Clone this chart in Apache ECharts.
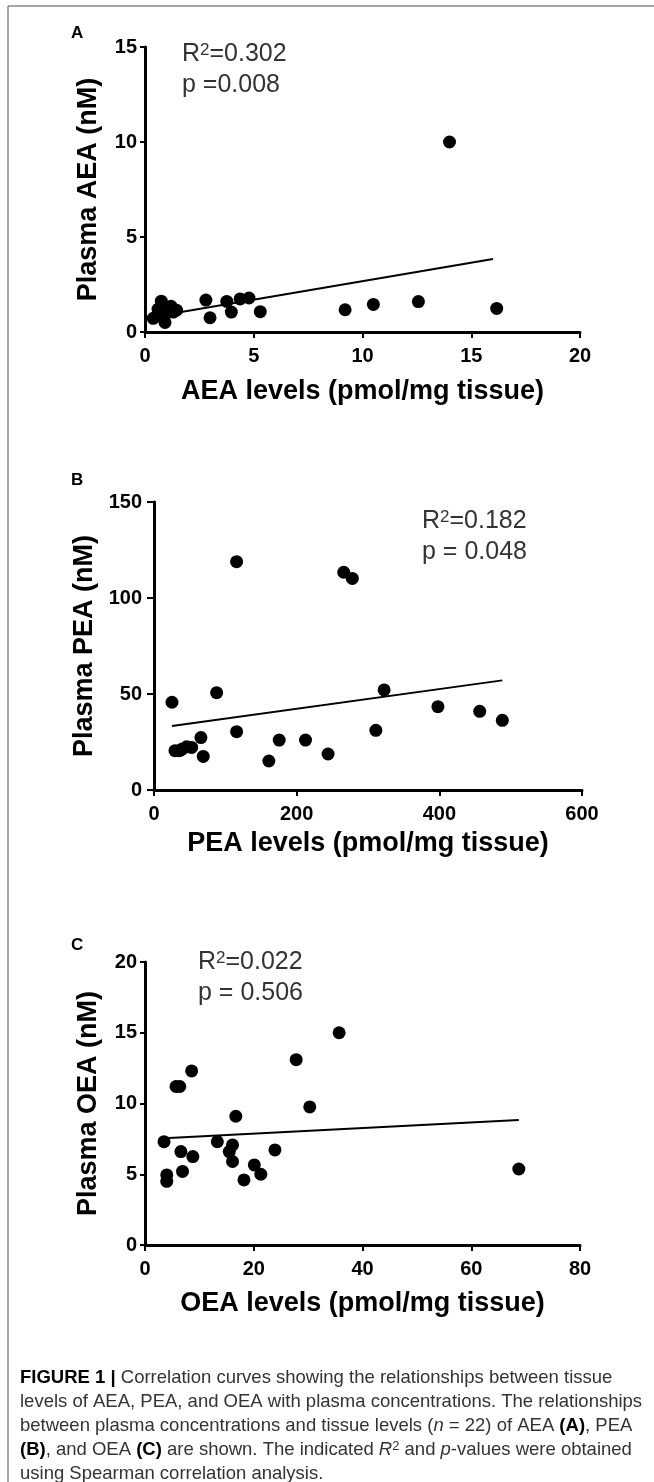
<!DOCTYPE html>
<html>
<head>
<meta charset="UTF-8">
<title>Figure 1</title>
<style>
body{margin:0;background:#fff;}
</style>
</head>
<body>
<div id="main" style="width:654px;height:1482px;"></div>
<script src="https://cdn.jsdelivr.net/npm/echarts@6/dist/echarts.min.js"></script>
<script>
// panel A - AEA
var aeaTissue = [14.0, 16.17, 12.57, 10.5, 9.2, 5.3, 4.78, 4.37, 3.97, 3.76, 2.99, 2.80, 0.38, 0.75, 0.92, 1.2, 1.45, 0.6, 1.0, 0.85, 1.3, 0.7];
var aeaPlasma = [10.0, 1.24, 1.6, 1.45, 1.17, 1.07, 1.79, 1.74, 1.05, 1.61, 0.75, 1.68, 0.72, 1.62, 0.5, 1.35, 1.15, 1.2, 1.0, 1.3, 1.05, 0.9];
var aeaFit = [[0.38, 0.8], [16.0, 3.84]];

// panel B - PEA
var peaTissue = [115.8, 266, 278, 25.2, 87.8, 322.6, 398, 456.6, 488.3, 311, 115.8, 175.5, 212.4, 244, 161, 65.8, 69, 29.4, 38.8, 45.8, 52.8, 35.5];
var peaPlasma = [118.9, 113.4, 110.2, 45.7, 50.7, 52.1, 43.4, 41, 36.3, 31.1, 30.4, 26, 26, 18.75, 15.1, 27.3, 17.5, 20.5, 21.2, 22.5, 22.2, 20.5];
var peaFit = [[25.2, 33.3], [488.3, 57.1]];

// panel C - OEA
var oeaTissue = [35.7, 27.8, 8.58, 5.7, 6.4, 30.3, 16.7, 3.5, 13.3, 16.1, 15.5, 6.6, 8.8, 23.9, 16.1, 20.1, 21.3, 18.2, 6.9, 4.0, 4.0, 68.75];
var oeaPlasma = [15.0, 13.1, 12.3, 11.2, 11.2, 9.76, 9.1, 7.3, 7.3, 7.07, 6.6, 6.6, 6.25, 6.72, 5.9, 5.66, 5.0, 4.6, 5.2, 4.95, 4.5, 5.37];
var oeaFit = [[3.5, 7.55], [68.75, 8.84]];

// axis ranges [min, max, interval]
var xRanges = [[0, 20, 5], [0, 600, 200], [0, 80, 20]];
var yRanges = [[0, 15, 5], [0, 150, 50], [0, 20, 5]];
var xNames = ['AEA levels (pmol/mg tissue)', 'PEA levels (pmol/mg tissue)', 'OEA levels (pmol/mg tissue)'];
var yNames = ['Plasma AEA (nM)', 'Plasma PEA (nM)', 'Plasma OEA (nM)'];

function pairs(xs, ys){
	return xs.map(function(v, i){ return [v, ys[i]]; });
}

var FONT = 'Liberation Sans, Arial, sans-serif';

var grids = [
	{left: 145, top: 47, width: 435, height: 285},
	{left: 154, top: 502, width: 428, height: 288},
	{left: 145, top: 962, width: 435, height: 283}
];
var yGap = [43, 52, 43];
var yLabelMargin = [8, 12, 8];
var yTickLen = [5, 7, 5];
var xGap = [46, 40, 45];

var xAxes = [], yAxes = [];
for (var i = 0; i < 3; i++) {
	xAxes.push({
		type: 'value', gridIndex: i,
		min: xRanges[i][0], max: xRanges[i][1], interval: xRanges[i][2],
		name: xNames[i], nameLocation: 'middle', nameGap: xGap[i],
		nameTextStyle: {color: '#000', fontWeight: 'bold', fontSize: 27, fontFamily: FONT},
		axisLine: {lineStyle: {color: '#000', width: 3}},
		axisTick: {length: 6, lineStyle: {color: '#000', width: 2}},
		axisLabel: {color: '#000', fontWeight: 'bold', fontSize: 20, fontFamily: FONT, margin: 14},
		splitLine: {show: false}
	});
	yAxes.push({
		type: 'value', gridIndex: i,
		min: yRanges[i][0], max: yRanges[i][1], interval: yRanges[i][2],
		name: yNames[i], nameLocation: 'middle', nameGap: yGap[i],
		nameTextStyle: {color: '#000', fontWeight: 'bold', fontSize: 27, fontFamily: FONT},
		axisLine: {show: true, lineStyle: {color: '#000', width: 3}},
		axisTick: {show: true, length: yTickLen[i], lineStyle: {color: '#000', width: 2}},
		axisLabel: {color: '#000', fontWeight: 'bold', fontSize: 20, fontFamily: FONT, margin: yLabelMargin[i]},
		splitLine: {show: false}
	});
}

var pts = [pairs(aeaTissue, aeaPlasma), pairs(peaTissue, peaPlasma), pairs(oeaTissue, oeaPlasma)];
var fits = [aeaFit, peaFit, oeaFit];
var series = [];
for (var j = 0; j < 3; j++) {
	series.push({
		type: 'line', xAxisIndex: j, yAxisIndex: j, data: fits[j],
		showSymbol: false, lineStyle: {color: '#000', width: 2}, silent: true
	});
	series.push({
		type: 'scatter', xAxisIndex: j, yAxisIndex: j, data: pts[j],
		symbolSize: 13, itemStyle: {color: '#000', opacity: 1}
	});
}

// R^2 / p annotations
function statText(x, y, r2, p){
	return [{
		type: 'text', left: x, top: y,
		style: {
			text: '{n|R}{s|2}{n|=' + r2 + '}',
			rich: {
				n: {fontSize: 25, fontFamily: FONT, fill: '#333'},
				s: {fontSize: 17, fontFamily: FONT, fill: '#333', verticalAlign: 'top'}
			}
		}
	}, {
		type: 'text', left: x, top: y + 31,
		style: {text: p, font: '25px ' + FONT, fill: '#333'}
	}];
}

function label(t, x, y){
	return {type: 'text', left: x, top: y, style: {text: t, font: 'bold 17px ' + FONT, fill: '#000'}};
}

var capFont = 'Liberation Sans Narrow, Liberation Sans, Arial, sans-serif';
var capRich = {
	r: {fontSize: 18.5, fontFamily: capFont, fill: '#333'},
	b: {fontSize: 18.5, fontFamily: capFont, fill: '#000', fontWeight: 'bold'},
	i: {fontSize: 18.5, fontFamily: capFont, fill: '#333', fontStyle: 'italic'},
	s: {fontSize: 13, fontFamily: capFont, fill: '#333', verticalAlign: 'top'}
};
var capLines = [
	'{b|FIGURE 1 |}{r| Correlation curves showing the relationships between tissue}',
	'{r|levels of AEA, PEA, and OEA with plasma concentrations. The relationships}',
	'{r|between plasma concentrations and tissue levels (}{i|n}{r| = 22) of AEA }{b|(A)}{r|, PEA}',
	'{b|(B)}{r|, and OEA }{b|(C)}{r| are shown. The indicated }{i|R}{s|2}{r| and }{i|p}{r|-values were obtained}',
	'{r|using Spearman correlation analysis.}'
];

var graphic = [
	{type: 'line', shape: {x1: 8, y1: 6, x2: 654, y2: 6}, style: {stroke: '#888', lineWidth: 1.5}},
	{type: 'line', shape: {x1: 8, y1: 6, x2: 8, y2: 1482}, style: {stroke: '#888', lineWidth: 1.5}},
	label('A', 71, 25), label('B', 71, 472), label('C', 71, 937)
];
graphic = graphic.concat(statText(182, 42, '0.302', 'p =0.008'));
graphic = graphic.concat(statText(422, 509, '0.182', 'p = 0.048'));
graphic = graphic.concat(statText(198, 950, '0.022', 'p = 0.506'));
capLines.forEach(function(t, k){
	graphic.push({type: 'text', left: 20, top: 1368 + k * 24, style: {text: t, rich: capRich}});
});

var myChart = echarts.init(document.getElementById('main'));
myChart.setOption({
	animation: false,
	grid: grids,
	xAxis: xAxes,
	yAxis: yAxes,
	series: series,
	graphic: graphic
});
</script>
</body>
</html>
